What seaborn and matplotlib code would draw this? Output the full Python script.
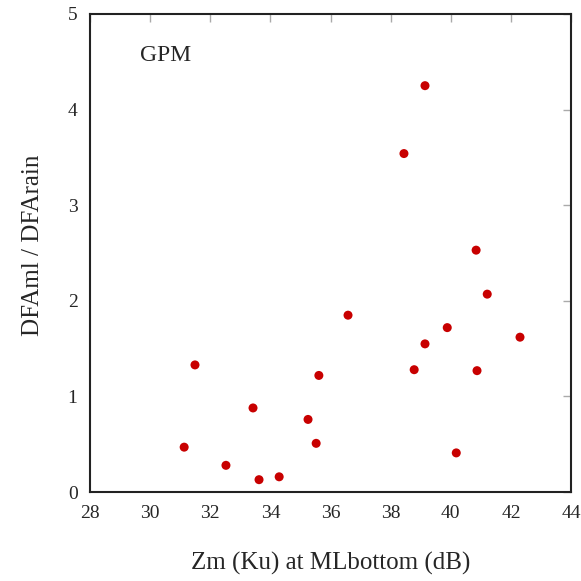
import matplotlib
matplotlib.use("Agg")
import matplotlib.pyplot as plt
import seaborn as sns
import pandas as pd

# values
zm_ku = [31.13, 31.49, 32.52, 33.42, 33.62, 34.29, 35.25, 35.52, 35.61, 36.58,
         38.44, 39.14, 39.14, 38.78, 39.88, 40.18, 40.84, 40.87, 41.21, 42.30]
dfa_ratio = [0.47, 1.33, 0.28, 0.88, 0.13, 0.16, 0.76, 0.51, 1.22, 1.85,
             3.54, 4.25, 1.55, 1.28, 1.72, 0.41, 2.53, 1.27, 2.07, 1.62]
x_ticks = [28, 30, 32, 34, 36, 38, 40, 42, 44]
y_ticks = [0, 1, 2, 3, 4, 5]

df = pd.DataFrame({"zm": zm_ku, "ratio": dfa_ratio})

sns.set_style("white")
plt.rcParams["font.family"] = ["Liberation Serif", "DejaVu Serif"]

fig = plt.figure(figsize=(5.81, 5.81), dpi=100)
ax = fig.add_axes([0.155, 0.153, 0.828, 0.823])

sns.scatterplot(data=df, x="zm", y="ratio", ax=ax, color="#c80000",
                s=42, edgecolor="none", legend=False)

ax.set_xlim(28, 44)
ax.set_ylim(0, 5)
ax.set_xticks(x_ticks)
ax.set_yticks(y_ticks)
ax.tick_params(direction="in", length=6, width=1, color="#aaaaaa",
               top=True, right=True, labelsize=14, pad=9)
for sp in ax.spines.values():
    sp.set_color("#222222")
    sp.set_linewidth(1.5)

ax.set_xlabel("Zm (Ku) at MLbottom (dB)", fontsize=18, labelpad=22)
ax.set_ylabel("DFAml / DFArain", fontsize=18)
ax.yaxis.set_label_coords(-0.095, 0.517)
ax.text(0.104, 0.914, "GPM", transform=ax.transAxes, fontsize=17,
        va="center", ha="left")

fig.savefig("out.png", dpi=100)
